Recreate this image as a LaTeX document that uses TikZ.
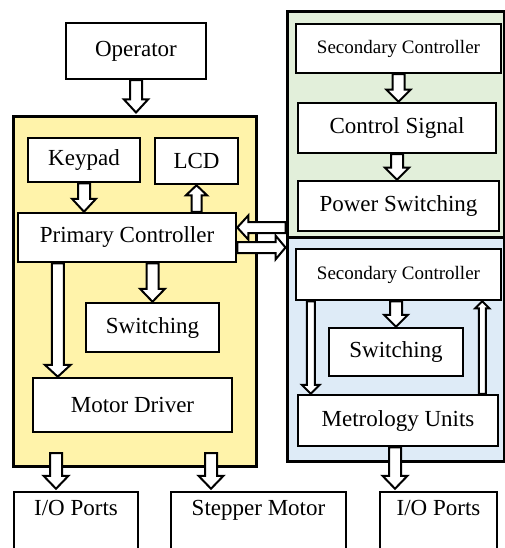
\documentclass[tikz,border=0pt]{standalone}
\usepackage{fontspec}
\setmainfont{Liberation Serif}
\usetikzlibrary{calc}
\definecolor{ylw}{RGB}{255,243,170}
\definecolor{grn}{RGB}{226,239,218}
\definecolor{blu}{RGB}{222,235,247}
% #1 start, #2 tip, #3 shaft half width, #4 head half width, #5 head length
\newcommand\blockarrow[5]{%
  \coordinate (bac) at ($(#2)!#5!(#1)$);
  \draw[harrow] ($(#1)!#3!90:(#2)$) -- ($(bac)!#3!90:(#2)$) -- ($(bac)!#4!90:(#2)$) -- (#2)
    -- ($(bac)!#4!-90:(#2)$) -- ($(bac)!#3!-90:(#2)$) -- ($(#1)!#3!-90:(#2)$) -- cycle;}
\begin{document}
\begin{tikzpicture}[x=1pt,y=-1pt,
  box/.style={draw, fill=white, line width=2.5pt, inner sep=0pt, font=\fontsize{23}{27}\selectfont},
  smallbox/.style={box, font=\fontsize{19}{23}\selectfont},
  cutbox/.style={box, text height=15pt, text depth=45pt, inner ysep=8pt},
  group/.style={draw, line width=3pt, inner sep=0pt},
  harrow/.style={draw, fill=white, line width=2pt, line join=miter}]
\useasboundingbox (0,0) rectangle (505,548);
% groups
\node[group, fill=ylw, minimum width=243, minimum height=349] (yellow) at (134.5,291.5) {};
\node[group, fill=grn, minimum width=217, minimum height=225] (green) at (395.5,124.5) {};
\node[group, fill=blu, minimum width=217, minimum height=224] (blue) at (395.5,349) {};
% boxes
\node[box, minimum width=140, minimum height=56] (operator) at (136,51) {Operator};
\node[box, minimum width=112, minimum height=44] (keypad) at (84,160) {Keypad};
\node[box, minimum width=83, minimum height=46] (lcd) at (196.5,161) {LCD};
\node[box, minimum width=218, minimum height=49] (primary) at (127,237.5) {Primary Controller};
\node[box, minimum width=133, minimum height=49] (sw1) at (152.5,327.5) {Switching};
\node[box, minimum width=199, minimum height=54] (motor) at (132.5,405) {Motor Driver};
\node[smallbox, minimum width=205, minimum height=49] (sec1) at (398.5,48.5) {Secondary Controller};
\node[box, minimum width=198, minimum height=50] (ctrl) at (397,128) {Control Signal};
\node[box, minimum width=201, minimum height=50] (power) at (398.5,206) {Power Switching};
\node[smallbox, minimum width=205, minimum height=51] (sec2) at (398.5,274.5) {Secondary Controller};
\node[box, minimum width=134, minimum height=48] (sw2) at (396,352) {Switching};
\node[box, minimum width=200, minimum height=51] (metro) at (398,420.5) {Metrology Units};
\node[cutbox, minimum width=124] (io1) at (76,530) {I/O Ports};
\node[cutbox, minimum width=175] (stepper) at (258.5,530) {Stepper Motor};
\node[cutbox, minimum width=117] (io2) at (438.5,530) {I/O Ports};
% arrows
\coordinate (a1e) at ($(operator.south |- yellow.north)+(0,-3)$);
\blockarrow{operator.south}{a1e}{6pt}{12pt}{13pt}
\blockarrow{keypad.south}{keypad.south |- primary.north}{6pt}{12pt}{13pt}
\coordinate (a3s) at (primary.north -| lcd.south);
\blockarrow{a3s}{lcd.south}{5pt}{10.5pt}{10pt}
\coordinate (a4s) at (primary.south -| sw1.north);
\blockarrow{a4s}{sw1.north}{6pt}{12.5pt}{13pt}
\coordinate (a5s) at ($(primary.south west)+(41,0)$);
\blockarrow{a5s}{a5s |- motor.north}{6pt}{13pt}{12pt}
\coordinate (a6e) at ($(primary.east)+(0,-10)$);
\coordinate (a6s) at (green.west |- a6e);
\blockarrow{a6s}{a6e}{5.5pt}{12pt}{11pt}
\coordinate (a7s) at ($(primary.east)+(0,10)$);
\coordinate (a7e) at (blue.west |- a7s);
\blockarrow{a7s}{a7e}{5.5pt}{12pt}{10pt}
\blockarrow{sec1.south}{sec1.south |- ctrl.north}{6pt}{12pt}{12pt}
\blockarrow{ctrl.south}{ctrl.south |- power.north}{6pt}{12pt}{12pt}
\coordinate (a10s) at (sec2.south -| sw2.north);
\blockarrow{a10s}{sw2.north}{6pt}{12pt}{12pt}
\coordinate (a11s) at ($(sec2.south west)+(16,0)$);
\blockarrow{a11s}{a11s |- metro.north}{4pt}{9pt}{9pt}
\coordinate (a12s) at ($(metro.north east)+(-17,0)$);
\blockarrow{a12s}{a12s |- sec2.south}{3.5pt}{7pt}{7pt}
\coordinate (a13s) at (56,453);
\coordinate (a13e) at ($(a13s |- io1.north)+(0,-2)$);
\blockarrow{a13s}{a13e}{6pt}{12.5pt}{13pt}
\coordinate (a14s) at (211,453);
\coordinate (a14e) at ($(a14s |- stepper.north)+(0,-2)$);
\blockarrow{a14s}{a14e}{6pt}{12.5pt}{13pt}
\coordinate (a15s) at ($(metro.south)+(-3,0)$);
\coordinate (a15e) at ($(a15s |- io2.north)+(0,-2)$);
\blockarrow{a15s}{a15e}{6pt}{12.5pt}{13pt}
\end{tikzpicture}
\end{document}
